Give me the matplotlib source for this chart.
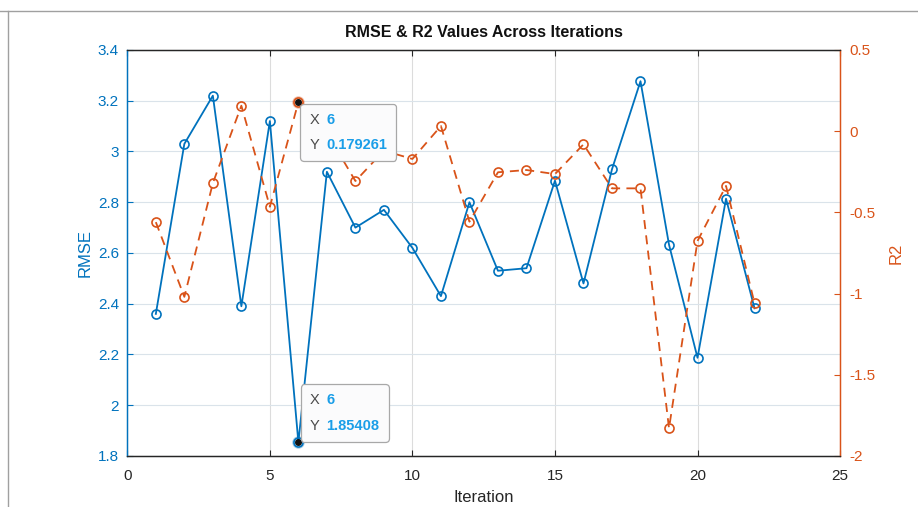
import matplotlib
matplotlib.use("Agg")
import matplotlib.pyplot as plt
from matplotlib.lines import Line2D
from matplotlib.offsetbox import TextArea, HPacker, VPacker, AnnotationBbox

plt.rcParams["font.family"] = ["Liberation Sans", "DejaVu Sans"]

iterations = list(range(1, 23))
rmse = [2.36, 3.03, 3.22, 2.39, 3.12, 1.85408, 2.92, 2.70, 2.77, 2.62, 2.43,
        2.80, 2.53, 2.54, 2.885, 2.48, 2.93, 3.277, 2.633, 2.187, 2.814, 2.382]
r2 = [-0.56, -1.02, -0.32, 0.157, -0.465, 0.179261, -0.01, -0.307, -0.12, -0.171, 0.032,
      -0.557, -0.253, -0.239, -0.264, -0.081, -0.352, -0.352, -1.829, -0.676, -0.337, -1.06]

rmse_ticks = [1.8, 2, 2.2, 2.4, 2.6, 2.8, 3, 3.2, 3.4]
rmse_labels = ["1.8", "2", "2.2", "2.4", "2.6", "2.8", "3", "3.2", "3.4"]
r2_ticks = [-2, -1.5, -1, -0.5, 0, 0.5]
r2_labels = ["-2", "-1.5", "-1", "-0.5", "0", "0.5"]
x_ticks = [0, 5, 10, 15, 20, 25]

# data tips shown on the chart
tip_r2 = (6, "0.179261")
tip_rmse = (6, "1.85408")

BLUE = "#0072BD"
ORANGE = "#D95319"
DARK = "#262626"

fig = plt.figure(figsize=(9.18, 5.07), dpi=100)
ax = fig.add_axes([0.1387, 0.1006, 0.7764, 0.8008])
ax2 = ax.twinx()

# RMSE (left)
ax.plot(iterations, rmse, color=BLUE, linewidth=1.3, marker="o", markersize=6.5,
        markerfacecolor="none", markeredgewidth=1.2)
ax.set_ylim(1.8, 3.4)
ax.set_yticks(rmse_ticks)
ax.set_yticklabels(rmse_labels)
ax.set_xlim(0, 25)
ax.set_xticks(x_ticks)
ax.set_ylabel("RMSE", color=BLUE, fontsize=12, labelpad=4)
ax.set_xlabel("Iteration", color=DARK, fontsize=12, labelpad=5)
ax.tick_params(axis="y", colors=BLUE, direction="in", length=4, pad=6, labelsize=11)
ax.tick_params(axis="x", colors=DARK, direction="in", length=4, pad=9.5, labelsize=11,
               top=True)
ax.grid(axis="y", color="#dae3ea", linewidth=0.8)
ax.grid(axis="x", color="#dcdcdc", linewidth=0.8)
ax.set_axisbelow(True)

# R2 (right)
ax2.plot(iterations, r2, color=ORANGE, linewidth=1.3, linestyle=(0, (5, 3.5)),
         marker="o", markersize=6.5, markerfacecolor="none", markeredgewidth=1.2)
ax2.set_ylim(-2, 0.5)
ax2.set_yticks(r2_ticks)
ax2.set_yticklabels(r2_labels)
ax2.set_ylabel("R2", color=ORANGE, fontsize=12, labelpad=9)
ax2.tick_params(axis="y", colors=ORANGE, direction="in", length=4, pad=7, labelsize=11)

for a in (ax, ax2):
    a.spines["top"].set_color(DARK)
    a.spines["bottom"].set_color(DARK)
    a.spines["left"].set_color(BLUE)
    a.spines["right"].set_color(ORANGE)
    for s in a.spines.values():
        s.set_linewidth(0.9)

ax.set_title("RMSE & R2 Values Across Iterations", fontsize=11.5, fontweight="bold",
             color="#111111", pad=9)


def datatip(x, y, label, trans, halo, align, offset):
    ax2.plot([x], [y], transform=trans, marker="o", markersize=8, color=halo,
             markerfacecolor="none", alpha=0.35, clip_on=False)
    ax2.plot([x], [y], transform=trans, marker="o", markersize=4, color="#111111",
             clip_on=False)
    rows = []
    for name, val in (("X", str(x)), ("Y", label)):
        rows.append(HPacker(children=[
            TextArea(name, textprops=dict(color="#4a4a4a", fontsize=10.5)),
            TextArea(val, textprops=dict(color="#1a9ee8", fontsize=10.5, fontweight="bold")),
        ], sep=5, align="baseline"))
    box = VPacker(children=rows, sep=8, pad=0, align="left")
    ab = AnnotationBbox(box, (x, y), xycoords=trans, xybox=offset,
                        boxcoords="offset pixels", box_alignment=align, pad=0.65,
                        frameon=True,
                        bboxprops=dict(boxstyle="round,pad=0.65,rounding_size=0.25",
                                       facecolor="#fbfbfc", edgecolor="#a8a8a8",
                                       linewidth=0.9))
    ax2.add_artist(ab)


datatip(tip_r2[0], float(tip_r2[1]), tip_r2[1], ax2.transData, ORANGE, (0, 1), (11, -10.5))
datatip(tip_rmse[0], float(tip_rmse[1]), tip_rmse[1], ax.transData, BLUE, (0, 0), (11.5, 9.7))

# window frame remnants
fig.add_artist(Line2D([0, 1], [0.978, 0.978], color="#a0a0a0", linewidth=1.0))
fig.add_artist(Line2D([0.009, 0.009], [0, 0.978], color="#a0a0a0", linewidth=1.0))

fig.savefig("out.png", dpi=100)
